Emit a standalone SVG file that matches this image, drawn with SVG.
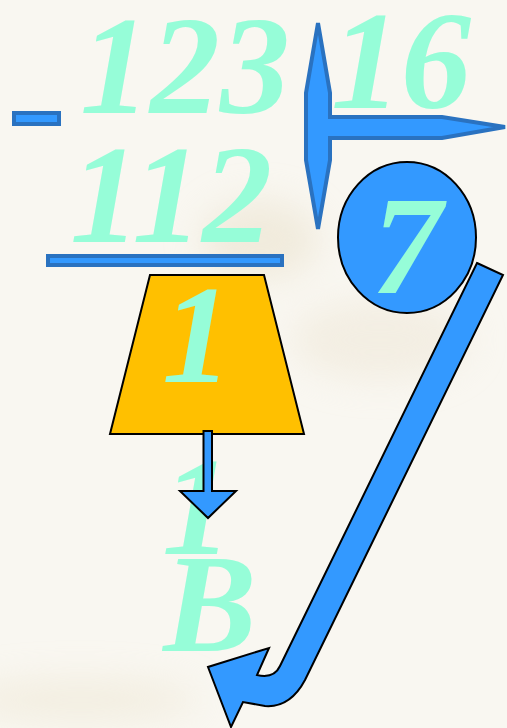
<svg xmlns="http://www.w3.org/2000/svg" width="507" height="728" viewBox="0 0 507 728">
  <defs>
    <style>
      .num { font-family: "Liberation Serif", "Times New Roman", serif; font-weight: bold; font-style: italic; font-size: 140px; fill: #96fdd8; }
      .blue { fill: #3399ff; stroke: #2a72c0; stroke-width: 4; stroke-linejoin: miter; }
      .shape { stroke: #000; stroke-width: 2; stroke-linejoin: miter; }
    </style>
    <filter id="blur" x="-50%" y="-50%" width="200%" height="200%">
      <feGaussianBlur stdDeviation="18"/>
    </filter>
  </defs>
  <rect x="0" y="0" width="507" height="728" fill="#f9f7f1"/>
  <g id="background-haze" filter="url(#blur)" opacity="0.5">
    <ellipse cx="260" cy="240" rx="60" ry="40" fill="#e8dfc8"/>
    <ellipse cx="380" cy="340" rx="90" ry="40" fill="#ede5d4"/>
    <ellipse cx="80" cy="700" rx="120" ry="20" fill="#ebe3cd"/>
  </g>

  <g id="minus">
    <rect class="blue" x="14" y="113" width="45" height="11"/>
  </g>
  <g id="dividend">
    <text class="num" x="80" y="113">123</text>
  </g>
  <g id="divisor">
    <text class="num" x="331" y="108">16</text>
  </g>
  <g id="division-bracket">
    <polygon class="blue" points="318,23 330,93 330,117 442,117 505,127 442,138 330,138 330,160 318,229 306,160 306,93"/>
  </g>
  <g id="product">
    <text class="num" x="70" y="242">112</text>
  </g>
  <g id="underline">
    <rect class="blue" x="48" y="256" width="234" height="9"/>
  </g>
  <g id="quotient">
    <ellipse class="shape" cx="407" cy="237.5" rx="69" ry="75.5" fill="#3399ff"/>
    <text class="num" x="407" y="293" text-anchor="middle">7</text>
  </g>
  <g id="remainder">
    <polygon class="shape" points="150,275 264,275 304,434 110,434" fill="#ffc000"/>
    <text class="num" x="197" y="382" text-anchor="middle">1</text>
  </g>
  <g id="remainder-copy">
    <text class="num" x="197" y="554" text-anchor="middle">1</text>
  </g>
  <g id="answer">
    <text class="num" x="210" y="651" text-anchor="middle">B</text>
  </g>
  <g id="connectors">
    <polygon class="shape" fill="#3399ff" points="203.5,431 212,431 212,491 236,491 208,518 180,491 203.5,491"/>
    <path class="shape" fill="#3399ff" d="M477,263 L503,275 L305,680 Q290,708 265,706 L243,702 L231,727 L208,667 L269,648 L257,675 Q274,679 280,666 Z"/>
  </g>
</svg>
